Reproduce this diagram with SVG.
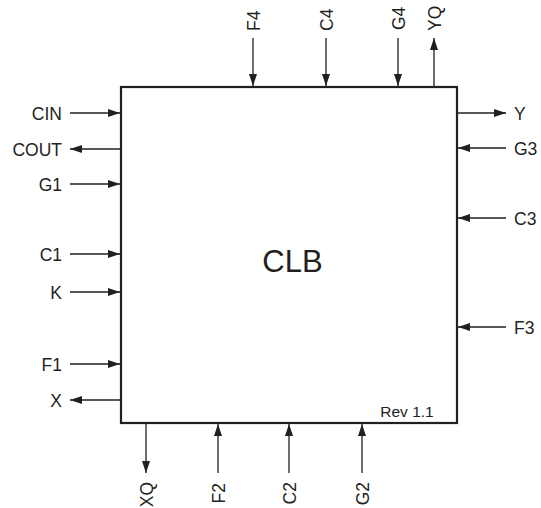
<svg xmlns="http://www.w3.org/2000/svg" width="541" height="508" viewBox="0 0 541 508">
<defs>
<marker id="ah" viewBox="0 0 12 8" refX="12" refY="4" markerWidth="12" markerHeight="8" markerUnits="userSpaceOnUse" orient="auto">
<path d="M0,0 L12,4 L0,8 Z" fill="#231f20"/>
</marker>
<style>
.lbl{font-family:"Liberation Sans",Arial,sans-serif;font-size:17.5px;fill:#231f20}
.w{stroke:#231f20;stroke-width:1.3;fill:none;marker-end:url(#ah)}
</style>
</defs>
<rect width="541" height="508" fill="#fff"/>
<g id="clb">
<rect x="121" y="87" width="336" height="336" fill="#fff" stroke="#231f20" stroke-width="2.2"/>
<text x="292.5" y="272" text-anchor="middle" font-family="Liberation Sans,Arial,sans-serif" font-size="31" fill="#231f20">CLB</text>
<text x="407" y="417" text-anchor="middle" font-family="Liberation Sans,Arial,sans-serif" font-size="15.5" fill="#231f20">Rev 1.1</text>
</g>
<g id="connectors">
<line class="w" x1="70" y1="113" x2="120" y2="113"/>
<line class="w" x1="120" y1="149" x2="70" y2="149"/>
<line class="w" x1="70" y1="184" x2="120" y2="184"/>
<line class="w" x1="70" y1="254" x2="120" y2="254"/>
<line class="w" x1="70" y1="292" x2="120" y2="292"/>
<line class="w" x1="70" y1="364" x2="120" y2="364"/>
<line class="w" x1="120" y1="400" x2="70" y2="400"/>
<line class="w" x1="253" y1="38" x2="253" y2="86"/>
<line class="w" x1="326" y1="38" x2="326" y2="86"/>
<line class="w" x1="398" y1="38" x2="398" y2="86"/>
<line class="w" x1="434" y1="86" x2="434" y2="38"/>
<line class="w" x1="458" y1="113" x2="506" y2="113"/>
<line class="w" x1="506" y1="148" x2="458" y2="148"/>
<line class="w" x1="506" y1="218" x2="458" y2="218"/>
<line class="w" x1="506" y1="327" x2="458" y2="327"/>
<line class="w" x1="146" y1="424" x2="146" y2="473"/>
<line class="w" x1="218" y1="473" x2="218" y2="424"/>
<line class="w" x1="289" y1="473" x2="289" y2="424"/>
<line class="w" x1="362" y1="473" x2="362" y2="424"/>
</g>
<g id="labels-left" class="lbl" text-anchor="end">
<text x="62" y="120">CIN</text>
<text x="62" y="155.5">COUT</text>
<text x="62" y="190.5">G1</text>
<text x="62" y="260.5">C1</text>
<text x="62" y="298.5">K</text>
<text x="62" y="370.5">F1</text>
<text x="62" y="406.5">X</text>
</g>
<g id="labels-right" class="lbl">
<text x="514" y="120">Y</text>
<text x="514" y="154.5">G3</text>
<text x="514" y="224.5">C3</text>
<text x="514" y="333.5">F3</text>
</g>
<g id="labels-top" class="lbl">
<text transform="translate(259.5,31) rotate(-90)">F4</text>
<text transform="translate(332.5,31) rotate(-90)">C4</text>
<text transform="translate(404.5,30) rotate(-90)">G4</text>
<text transform="translate(440.5,31) rotate(-90)">YQ</text>
</g>
<g id="labels-bottom" class="lbl" text-anchor="end">
<text transform="translate(153,482) rotate(-90)">XQ</text>
<text transform="translate(224.5,483) rotate(-90)">F2</text>
<text transform="translate(295.5,482) rotate(-90)">C2</text>
<text transform="translate(368.5,482) rotate(-90)">G2</text>
</g>
</svg>
